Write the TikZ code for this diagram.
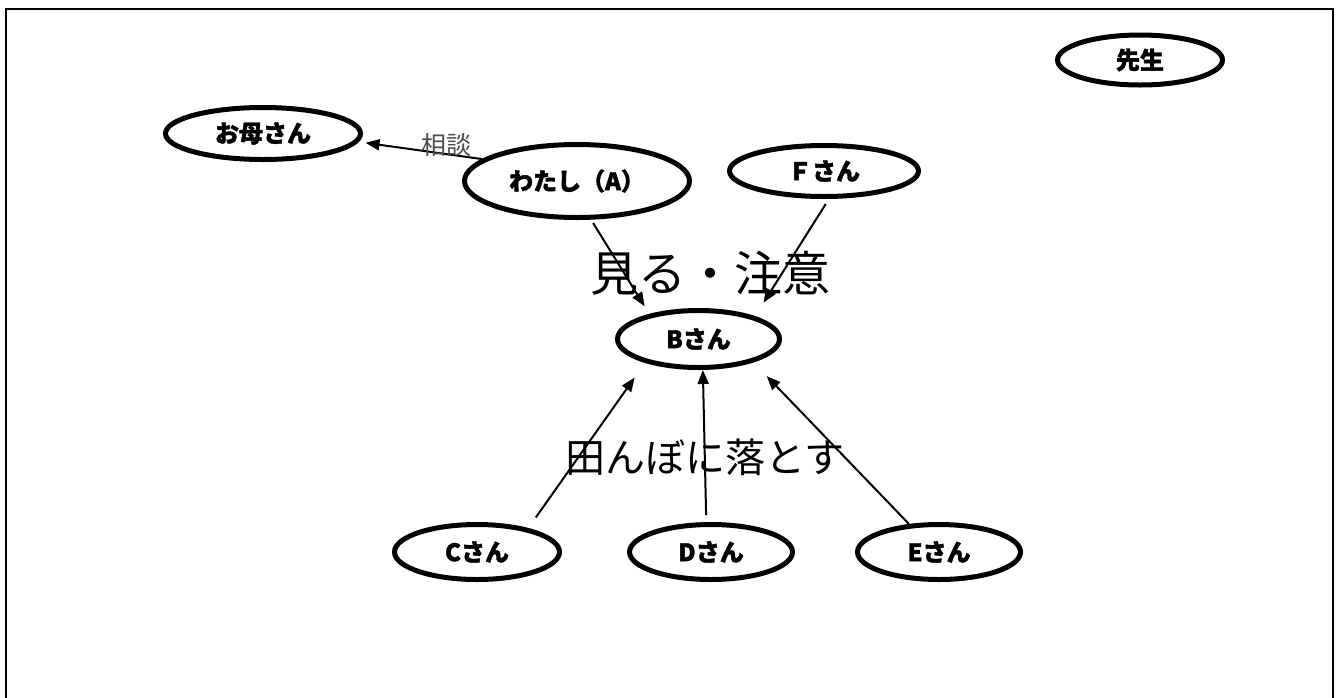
\documentclass[tikz,border=0pt]{standalone}
\usepackage{fontspec}
\usetikzlibrary{shapes.geometric,arrows.meta}
\newfontfamily\cjk{Noto Sans CJK JP}
\newfontfamily\cjkheavy[BoldFeatures={FakeBold=1.6}]{Noto Sans CJK JP}
\begin{document}
\begin{tikzpicture}[x=1pt,y=-1pt,
  person/.style={draw, line width=5pt, ellipse, inner sep=0pt,
    font=\cjkheavy\bfseries\fontsize{24}{28}\selectfont},
  link/.style={line width=2pt, -{Triangle[length=14pt,width=11pt]}},
  big/.style={inner sep=0pt},
  lbl/.style={inner sep=0pt, text=black!70, font=\cjk\fontsize{25}{28}\selectfont},
]
\useasboundingbox (0,0) rectangle (1338,697);
\clip (0,0) rectangle (1338,697);
\draw[line width=2.5pt] (6,760) -- (6,9) -- (1333,9) -- (1333,760);

\node[person, minimum width=195pt, minimum height=52pt] (M) at (263,133.5) {お母さん};
\node[person, minimum width=225pt, minimum height=73pt] (A) at (577,181) {わたし（A）};
\node[person, minimum width=189pt, minimum height=51pt] (F) at (824,171) {Ｆさん};
\node[person, minimum width=165pt, minimum height=50pt] (T) at (1140,60) {先生};
\node[person, minimum width=162pt, minimum height=57pt] (B) at (698.5,339) {Bさん};
\node[person, minimum width=165pt, minimum height=55pt] (C) at (477,552) {Cさん};
\node[person, minimum width=163pt, minimum height=55pt] (D) at (711,552) {Dさん};
\node[person, minimum width=163pt, minimum height=55pt] (E) at (939,552) {Eさん};

\node[big, font=\cjk\fontsize{48}{52}\selectfont] (see) at (710,273) {見る・注意};
\node[big, font=\cjk\fontsize{40}{44}\selectfont] (drop) at (705,457) {田んぼに落とす};

\draw[link, shorten >=7pt] (A.167) -- node[pos=0.29, yshift=9pt, lbl] (talk) {相談} (M.-5);
\draw[link, shorten <=4pt, shorten >=9pt] (A.-70) -- (B.153);
\draw[link, shorten <=6pt, shorten >=16pt] (F.-80) -- (B.22);
\draw[link, shorten <=13pt, shorten >=18pt] (C.25) -- (B.204);
\draw[link, shorten <=7pt] (D.99) -- (B.-82);
\draw[link, shorten >=19pt] (E.137) -- (B.-23);
\end{tikzpicture}
\end{document}
